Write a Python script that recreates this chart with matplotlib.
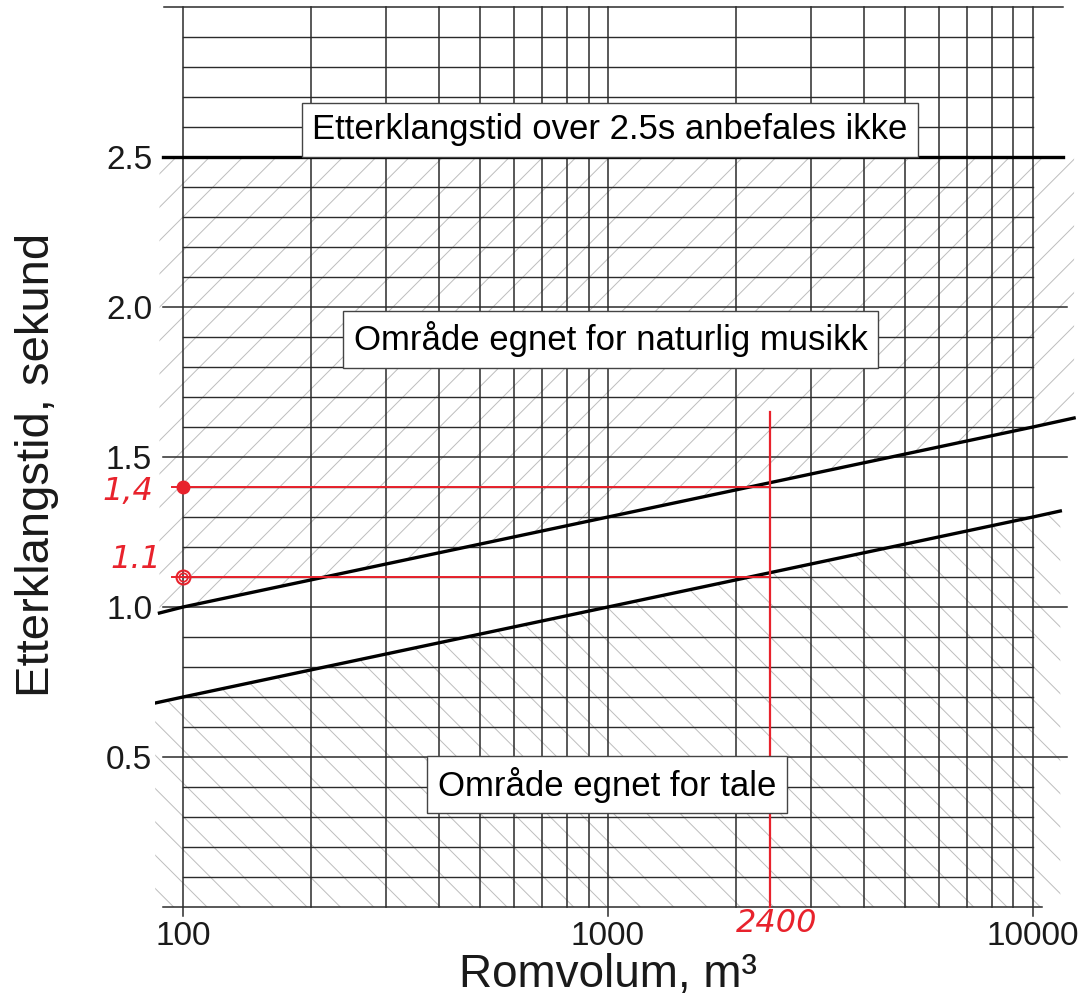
import matplotlib
matplotlib.use("Agg")
import matplotlib.pyplot as plt

plt.rcParams['font.family'] = ['Liberation Sans', 'DejaVu Sans']
plt.rcParams['hatch.linewidth'] = 0.7

# recommended reverberation time limits
upper_v = [88, 100, 1000, 10000, 12500]
upper_t = [0.98, 1.0, 1.3, 1.6, 1.63]
lower_v = [86, 100, 1000, 10000, 11600]
lower_t = [0.68, 0.7, 1.0, 1.3, 1.32]
max_t = 2.5

# the worked example drawn in red
example_v = 2400
example_t = [1.4, 1.1]
example_labels = ['1,4', '1.1']

xtick_vals = [100, 1000, 10000]
xtick_labels = ['100', '1000', '10000']
ytick_vals = [0.5, 1.0, 1.5, 2.0, 2.5]
ytick_labels = ['0.5', '1.0', '1.5', '2.0', '2.5']

grid_col = '#2b2b2b'
hatch_col = '#bdbdbd'
red = '#e8222c'

fig = plt.figure(figsize=(10.85, 10.02), dpi=100)
ax = fig.add_axes([155 / 1085, 82 / 1002, 930 / 1085, 920 / 1002])
ax.set_xscale('log')
ax.set_xlim(85.9, 13260)
ax.set_ylim(-0.0433, 3.0233)
for s in ax.spines.values():
    s.set_visible(False)

# hatched areas
ax.fill_between(upper_v, upper_t, max_t, facecolor='none', edgecolor=hatch_col,
                hatch='/', linewidth=0, zorder=1)
ax.fill_between(lower_v, 0, lower_t, facecolor='none', edgecolor=hatch_col,
                hatch='\\', linewidth=0, zorder=1)

# vertical grid
vx = [m * 10 ** d for d in (2, 3) for m in range(1, 10)] + [10000]
for v in vx:
    lo = -0.03 if v in xtick_vals else 0
    ax.plot([v, v], [lo, 3.0], color=grid_col, lw=1.1, zorder=2)

# horizontal grid
for i in range(1, 30):
    y = i / 10
    if i % 5:
        ax.plot([100, 10000], [y, y], color=grid_col, lw=1.0, zorder=2)
    elif i == 25:
        ax.plot([89.7, 11800], [y, y], color='black', lw=2.4, zorder=3)
    else:
        ax.plot([89.7, 12000], [y, y], color=grid_col, lw=1.1, zorder=2)
ax.plot([90, 11800], [3.0, 3.0], color=grid_col, lw=1.1, zorder=2)
ax.plot([89.7, 10500], [0, 0], color=grid_col, lw=1.1, zorder=2)

# limit lines
ax.plot(upper_v, upper_t, color='black', lw=2.4, zorder=4)
ax.plot(lower_v, lower_t, color='black', lw=2.4, zorder=4)

# red example
ax.plot([example_v, example_v], [0, 1.65], color=red, lw=1.6, zorder=5)
for t in example_t:
    ax.plot([94, example_v], [t, t], color=red, lw=1.4, zorder=5)
ax.plot(100, example_t[0], 'o', color=red, ms=9, zorder=6)
ax.plot(100, example_t[1], 'o', mfc='none', mec=red, mew=1.5, ms=10, zorder=6)
ax.plot(100, example_t[1], 'o', mfc='none', mec=red, mew=1.2, ms=6, zorder=6)
hand = dict(color=red, fontsize=23, fontstyle='italic', family='DejaVu Sans',
            fontweight='light', ha='center', va='center', clip_on=False)
ax.text(74, 1.385, example_labels[0], **hand)
ax.text(77.5, 1.16, example_labels[1], **hand)
ax.text(2497, -0.055, str(example_v), **hand)

# region labels
box = dict(boxstyle='square,pad=0.3', facecolor='white', edgecolor='#444444', lw=1.0)
ax.text(1011, 2.59, 'Etterklangstid over 2.5s anbefales ikke', fontsize=25,
        ha='center', va='center', bbox=box, zorder=7)
ax.text(1014, 1.893, 'Område egnet for naturlig musikk', fontsize=25,
        ha='center', va='center', bbox=box, zorder=7)
ax.text(995, 0.407, 'Område egnet for tale', fontsize=25,
        ha='center', va='center', bbox=box, zorder=7)

ax.set_xticks(xtick_vals, xtick_labels)
ax.set_xticks([], minor=True)
ax.set_yticks(ytick_vals, ytick_labels)
ax.tick_params(length=0, labelsize=24, colors='#1a1a1a')
ax.tick_params(axis='y', pad=2)
ax.tick_params(axis='x', pad=1)

fig.text(37 / 1085, 1 - 465 / 1002, 'Etterklangstid, sekund', rotation=90,
         fontsize=34, ha='center', va='center', color='#1a1a1a')
fig.text(608 / 1085, 1 - 975 / 1002, 'Romvolum, m³', fontsize=33,
         ha='center', va='center', color='#1a1a1a')

fig.savefig('out.png', dpi=100)
